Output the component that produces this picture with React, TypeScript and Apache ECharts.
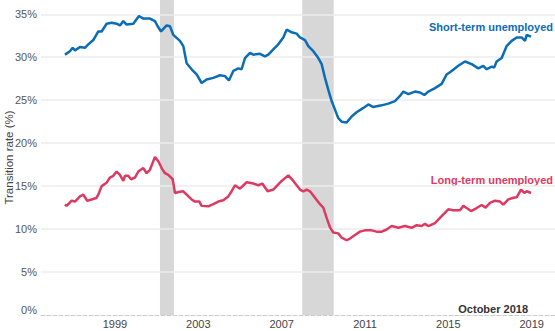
import React, { useEffect, useRef } from "react";
import * as echarts from "echarts";

const shortYears = [
  1996.6, 1996.84, 1996.97, 1997.08, 1997.32, 1997.56, 1997.72, 1997.96, 1998.2, 1998.36,
  1998.6, 1998.84, 1999.08, 1999.24, 1999.4, 1999.56, 1999.88, 2000.15, 2000.36, 2000.68,
  2000.92, 2001.05, 2001.21, 2001.48, 2001.64, 2001.8, 2002.12, 2002.28, 2002.44, 2002.68,
  2002.92, 2003.16, 2003.4, 2003.72, 2004.04, 2004.28, 2004.47, 2004.68, 2004.92, 2005.08,
  2005.24, 2005.48, 2005.64, 2005.96, 2006.2, 2006.36, 2006.6, 2006.84, 2007.08, 2007.24,
  2007.48, 2007.72, 2007.88, 2008.12, 2008.28, 2008.52, 2008.76, 2008.92, 2009.08, 2009.24,
  2009.4, 2009.56, 2009.72, 2009.88, 2010.12, 2010.36, 2010.6, 2010.92, 2011.16, 2011.4,
  2011.56, 2011.8, 2012.12, 2012.44, 2012.68, 2012.84, 2013.08, 2013.4, 2013.64, 2013.85,
  2014.04, 2014.36, 2014.68, 2014.92, 2015.16, 2015.48, 2015.8, 2016.12, 2016.44, 2016.68,
  2016.84, 2017.08, 2017.2, 2017.32, 2017.56, 2017.8, 2018.04, 2018.28, 2018.52, 2018.68,
  2018.76, 2018.97,
];
const shortRates = [
  30.3, 30.7, 31.1, 30.8, 31.2, 31.1, 31.5, 32.0, 33.0, 33.0,
  33.9, 34.0, 33.9, 33.7, 34.2, 33.8, 33.9, 34.8, 34.5, 34.5,
  34.2, 33.6, 33.0, 33.7, 33.6, 32.6, 31.9, 31.3, 29.3, 28.6,
  28.0, 27.0, 27.4, 27.6, 27.9, 27.8, 27.3, 28.4, 28.7, 28.6,
  29.9, 30.5, 30.3, 30.4, 30.1, 30.3, 30.9, 31.5, 32.3, 33.2,
  32.9, 32.75, 32.3, 32.0, 31.3, 30.7, 29.9, 29.2, 27.6, 26.2,
  24.9, 23.9, 22.9, 22.5, 22.4, 23.1, 23.6, 24.1, 24.5, 24.2,
  24.3, 24.4, 24.6, 24.9, 25.5, 26.0, 25.7, 26.0, 25.9, 25.6,
  26.0, 26.4, 26.9, 28.0, 28.4, 29.0, 29.5, 29.2, 28.7, 29.0,
  28.6, 28.9, 28.8, 29.5, 29.9, 31.3, 31.9, 32.3, 32.3, 31.9,
  32.6, 32.4,
];

const longYears = [
  1996.6, 1996.68, 1996.92, 1997.08, 1997.32, 1997.48, 1997.67, 1997.96, 1998.12, 1998.2,
  1998.36, 1998.6, 1998.76, 1998.92, 1999.08, 1999.24, 1999.4, 1999.48, 1999.64, 1999.77,
  1999.96, 2000.12, 2000.36, 2000.52, 2000.68, 2000.92, 2001.08, 2001.24, 2001.4, 2001.56,
  2001.77, 2001.88, 2002.12, 2002.28, 2002.44, 2002.68, 2002.84, 2003.05, 2003.16, 2003.48,
  2003.72, 2003.96, 2004.2, 2004.44, 2004.6, 2004.76, 2005.0, 2005.32, 2005.64, 2005.88,
  2006.07, 2006.33, 2006.6, 2006.76, 2007.0, 2007.32, 2007.56, 2007.72, 2007.88, 2008.04,
  2008.2, 2008.36, 2008.6, 2008.84, 2009.0, 2009.16, 2009.32, 2009.48, 2009.72, 2009.88,
  2010.12, 2010.28, 2010.52, 2010.76, 2011.0, 2011.32, 2011.56, 2011.8, 2012.04, 2012.28,
  2012.6, 2012.92, 2013.24, 2013.48, 2013.72, 2013.88, 2014.04, 2014.36, 2014.68, 2015.0,
  2015.24, 2015.56, 2015.72, 2015.88, 2016.09, 2016.36, 2016.6, 2016.79, 2017.0, 2017.24,
  2017.48, 2017.64, 2017.88, 2018.12, 2018.28, 2018.49, 2018.65, 2018.76, 2018.97,
];
const longRates = [
  12.87, 12.7, 13.3, 13.2, 13.8, 14.0, 13.3, 13.5, 13.65, 14.0,
  15.0, 15.4, 16.0, 16.2, 16.7, 16.3, 15.6, 16.2, 16.2, 15.8,
  16.0, 16.7, 17.1, 16.5, 16.9, 18.4, 17.9, 17.1, 16.5, 16.3,
  15.8, 14.2, 14.35, 14.4, 14.0, 13.45, 13.2, 13.2, 12.7, 12.65,
  12.9, 13.2, 13.35, 13.8, 14.4, 15.1, 14.7, 15.45, 15.3, 15.1,
  15.3, 14.4, 14.6, 15.0, 15.6, 16.25, 15.6, 15.1, 14.6, 14.4,
  14.6, 14.4, 13.65, 12.9, 12.5, 11.3, 10.2, 9.6, 9.5, 9.0,
  8.7, 8.9, 9.3, 9.7, 9.85, 9.85, 9.7, 9.7, 9.95, 10.35,
  10.15, 10.35, 10.15, 10.45, 10.35, 10.6, 10.35, 10.7, 11.5, 12.3,
  12.2, 12.2, 12.7, 12.45, 12.1, 12.45, 12.8, 12.5, 13.05, 13.3,
  13.2, 12.85, 13.45, 13.65, 13.7, 14.6, 14.2, 14.4, 14.2,
];

const recessionStarts = [2001.16, 2007.99];
const recessionEnds = [2001.83, 2009.5];

const yearTicks = [1999, 2003, 2007, 2011, 2015, 2019];
const shortLabel = "Short-term unemployed";
const longLabel = "Long-term unemployed";
const dateNote = "October 2018";
const axisTitle = "Transition rate (%)";

const BLUE = "#0b6db5";
const RED = "#dc3a62";
const FONT = "Liberation Sans, Arial, sans-serif";

export default function App() {
  const ref = useRef<HTMLDivElement>(null);

  useEffect(() => {
    if (!ref.current) return;
    const chart = echarts.init(ref.current, undefined, { renderer: "svg" });
    chart.setOption({
      animation: false,
      textStyle: { fontFamily: FONT },
      grid: {
        left: 41,
        right: 0,
        top: 0,
        bottom: 16,
        containLabel: false,
        outerBoundsMode: "none",
      },
      xAxis: {
        type: "value",
        min: 1995.45,
        max: 2020.12,
        axisLine: { show: true, lineStyle: { color: "#cccccc", type: "dashed", width: 1 } },
        axisTick: { show: false },
        splitLine: { show: false },
        axisLabel: {
          customValues: yearTicks,
          formatter: (v: number) => String(Math.round(v)),
          color: "#444",
          fontSize: 11,
          margin: 3,
          fontFamily: FONT,
        },
      },
      yAxis: {
        type: "value",
        min: 0,
        max: 36.66,
        interval: 5,
        name: axisTitle,
        nameLocation: "middle",
        nameGap: 26,
        nameMoveOverlap: false,
        nameTextStyle: { color: "#444", fontSize: 11.5, fontFamily: FONT },
        axisLine: { show: false },
        axisTick: { show: false },
        splitLine: {
          show: true,
          showMinLine: false,
          showMaxLine: false,
          lineStyle: { color: "#ececec", width: 1.5 },
        },
        axisLabel: {
          showMaxLabel: false,
          color: "#555",
          fontSize: 11,
          margin: 4,
          fontFamily: FONT,
          formatter: (v: number) => (v === 0 ? "{z|0%}" : v + "%"),
          rich: { z: { padding: [0, 0, 11, 0], color: "#555", fontSize: 11, fontFamily: FONT } },
        },
      },
      graphic: [
        {
          type: "text",
          right: 27,
          top: 303,
          style: { text: dateNote, font: `bold 11px ${FONT}`, fill: "#333" },
        },
        {
          type: "text",
          right: 2,
          top: 21,
          style: { text: shortLabel, font: `bold 11px ${FONT}`, fill: BLUE },
        },
        {
          type: "text",
          right: 2,
          top: 174,
          style: { text: longLabel, font: `bold 11px ${FONT}`, fill: RED },
        },
      ],
      series: [
        {
          type: "line",
          data: [],
          silent: true,
          markArea: {
            silent: true,
            z: -1,
            itemStyle: { color: "#d7d7d7" },
            data: recessionStarts.map((s, i) => [{ xAxis: s }, { xAxis: recessionEnds[i] }]),
          },
        },
        {
          type: "line",
          name: shortLabel,
          data: shortYears.map((y, i) => [y, shortRates[i]]),
          showSymbol: false,
          lineStyle: { color: BLUE, width: 2.5 },
          itemStyle: { color: BLUE },
        },
        {
          type: "line",
          name: longLabel,
          data: longYears.map((y, i) => [y, longRates[i]]),
          showSymbol: false,
          lineStyle: { color: RED, width: 2.5 },
          itemStyle: { color: RED },
        },
      ],
    });
    return () => chart.dispose();
  }, []);

  return (
    <div
      ref={ref}
      style={{ position: "fixed", left: 0, top: 0, width: 555, height: 331, background: "#fff" }}
    />
  );
}
